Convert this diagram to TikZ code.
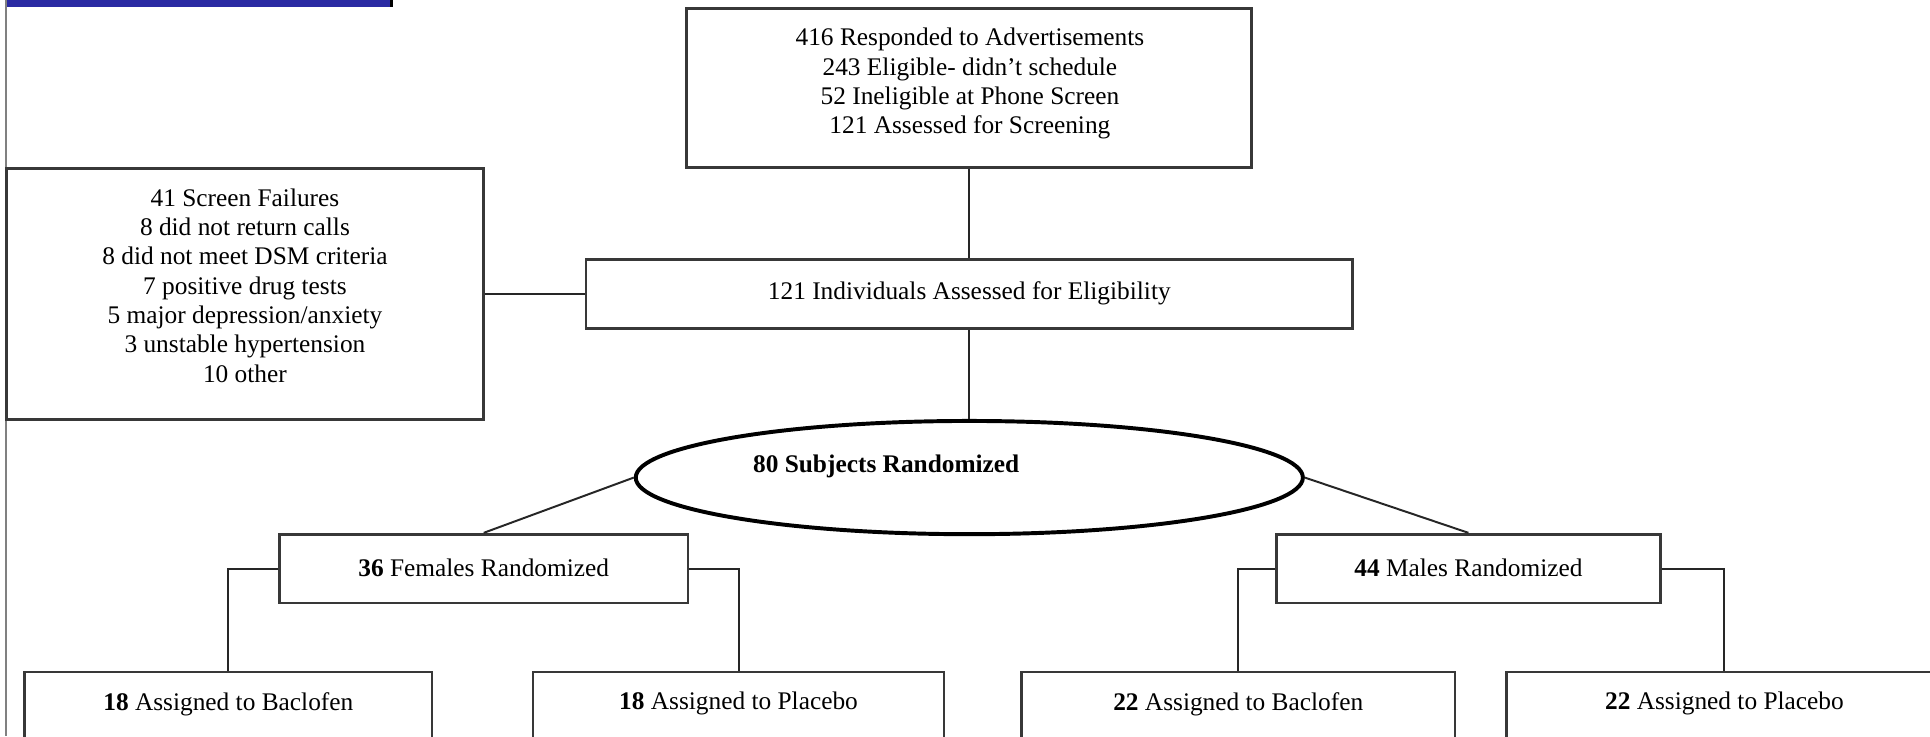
\documentclass[tikz,border=0pt]{standalone}
\usepackage{fontspec}
\setmainfont{Liberation Serif}
\usepackage{tikz}
\usetikzlibrary{positioning, shapes.geometric, fit, calc}

\begin{document}
\begin{tikzpicture}[
    x=0.5pt, y=-0.5pt,
    box/.style={draw=black!78, line width=1.1pt, rectangle, inner sep=0pt},
    txt/.style={align=center, inner sep=0pt, font=\fontsize{10.3}{11.9}\selectfont},
    link/.style={draw=black!85, line width=0.8pt},
]

% Color definitions
\definecolor{barC}{RGB}{42,42,163}

\useasboundingbox (0,0) rectangle (1568,598);
\clip (0,0) rectangle (1568,598);

% Page edge
\fill[barC] (5,0) rectangle (318,5.5);
\draw[black, line width=1pt] (318,0) -- (318,5.5);
\draw[gray, line width=0.9pt] (5,0) -- (5,598);

% Screening boxes
\node[box, fit={(558,7) (1017,136)}] (ads) {};
\node[txt] at (788,68)
  {416 Responded to Advertisements\\243 Eligible- didn't schedule\\
   52 Ineligible at Phone Screen\\121 Assessed for Screening};
\node[box, fit={(5,137) (393,341)}] (fail) {};
\node[txt] at (199,232)
  {41 Screen Failures\\8 did not return calls\\8 did not meet DSM criteria\\
   7 positive drug tests\\5 major depression/anxiety\\3 unstable hypertension\\10 other};
\node[box, fit={(476,211) (1099,267)}] (elig) {};
\node[txt] at ($(elig.center)+(0,-1)$) {121 Individuals Assessed for Eligibility};

% Randomization
\node[draw=black, line width=1.6pt, ellipse, minimum width=271pt, minimum height=46pt,
      inner sep=0pt] (rand) at (787.5,388) {};
\node[txt, font=\fontsize{10.3}{11.9}\selectfont\bfseries] at (720,379) {80 Subjects Randomized};
\node[box, fit={(227,434) (559,490)}] (fem) {};
\node[box, fit={(1037,434) (1349,490)}] (male) {};
\node[txt] at ($(fem.center)+(0,-1)$) {\textbf{36} Females Randomized};
\node[txt] at ($(male.center)+(0,-1)$) {\textbf{44} Males Randomized};

% Treatment arms (cut at page bottom)
\node[box, fit={(20,546) (351,640)}] (fbac) {};
\node[box, fit={(433,546) (767,640)}] (fpla) {};
\node[box, fit={(830,546) (1182,640)}] (mbac) {};
\node[box, fit={(1224,546) (1578,640)}] (mpla) {};
\node[txt] at ($(fbac.north)+(0,27)$) {\textbf{18} Assigned to Baclofen};
\node[txt] at ($(fpla.north)+(0,27)$) {\textbf{18} Assigned to Placebo};
\node[txt] at ($(mbac.north)+(0,27)$) {\textbf{22} Assigned to Baclofen};
\node[txt] at ($(mpla.north)+(0,27)$) {\textbf{22} Assigned to Placebo};

% Connectors
\draw[link] (ads) -- (elig);
\draw[link] (fail) -- (elig);
\draw[link] (elig) -- (rand);
\draw[link] (rand.west) -- (fem.north);
\draw[link] (rand.east) -- (male.north);
\draw[link] (fem.west) -| (fbac.north);
\draw[link] (fem.east) -| (fpla.north);
\draw[link] (male.west) -| (mbac.north);
\draw[link] (male.east) -| (mpla.north);

\end{tikzpicture}
\end{document}
